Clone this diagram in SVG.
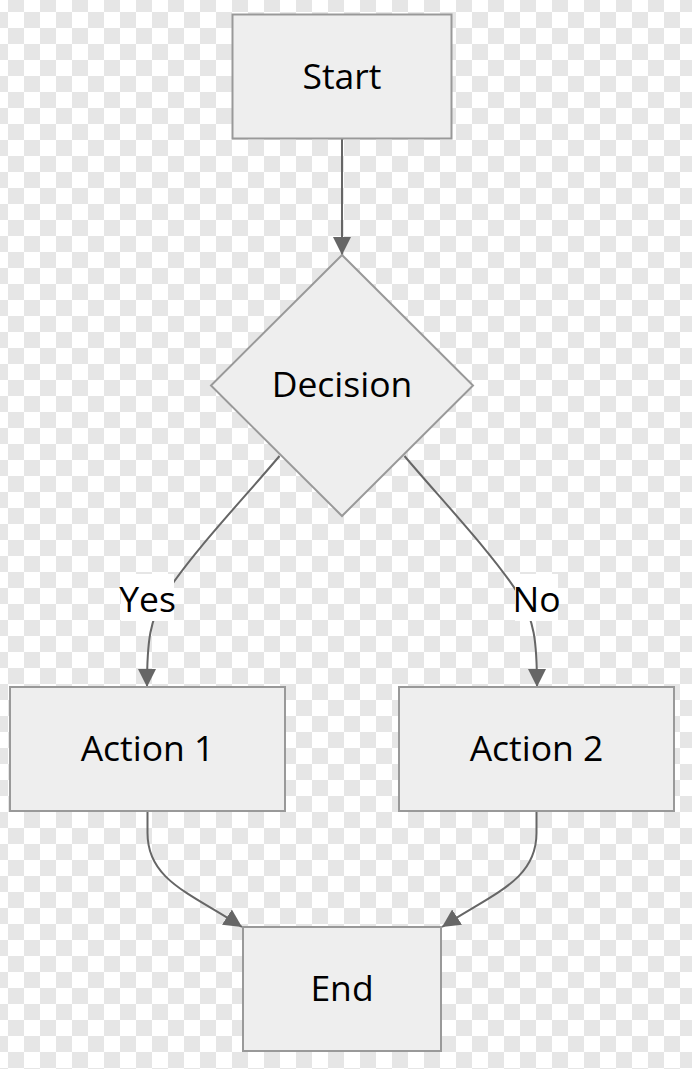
<svg xmlns="http://www.w3.org/2000/svg" width="696" height="1082" viewBox="0 0 696 1082">
  <defs>
    <pattern id="checker" patternUnits="userSpaceOnUse" x="8" y="-4" width="32" height="32">
      <rect x="0" y="0" width="32" height="32" fill="#ffffff"/>
      <rect x="0" y="0" width="16" height="16" fill="#e6e6e6"/>
      <rect x="16" y="16" width="16" height="16" fill="#e6e6e6"/>
    </pattern>
    <marker id="arrow" viewBox="0 0 10 10" refX="10" refY="5" markerUnits="userSpaceOnUse" markerWidth="18" markerHeight="19" orient="auto">
      <path d="M0,0 L10,5 L0,10 z" fill="#666666"/>
    </marker>
    <style>
      .node rect, .node polygon { fill: #eeeeee; stroke: #999999; stroke-width: 2; }
      .node text { font-family: "Open Sans", "Noto Sans", "DejaVu Sans", sans-serif; font-size: 35.5px; fill: #000000; text-anchor: middle; }
      .edge { fill: none; stroke: #666666; stroke-width: 2; marker-end: url(#arrow); }
      .elabel rect { fill: #ffffff; }
      .elabel text { font-family: "Open Sans", "Noto Sans", "DejaVu Sans", sans-serif; font-size: 35.5px; fill: #000000; text-anchor: middle; }
    </style>
  </defs>
  <rect x="0" y="0" width="696" height="1082" fill="#ffffff"/>
  <rect x="0" y="0" width="692" height="1069" fill="url(#checker)"/>

  <g id="connectors">
    <path class="edge" d="M342,139 L342,255"/>
    <path class="edge" d="M279.5,456 C245,497 190,555 165,595 C150,620 147,640 147,687"/>
    <path class="edge" d="M404.5,456 C439,497 494,555 519,595 C534,620 537,640 537,687"/>
    <path class="edge" d="M147.5,812 L147.5,833 C147.5,880 190,893 242,927"/>
    <path class="edge" d="M536.5,812 L536.5,833 C536.5,880 494,893 442,927"/>
    <g class="elabel" id="label-yes">
      <rect x="121" y="574" width="53" height="47"/>
      <text x="147.5" y="612">Yes</text>
    </g>
    <g class="elabel" id="label-no">
      <rect x="515" y="574" width="43" height="47"/>
      <text x="536.5" y="612">No</text>
    </g>
  </g>

  <g id="node-start" class="node">
    <rect x="232.5" y="14.5" width="219" height="124"/>
    <text x="342" y="88.5">Start</text>
  </g>
  <g id="node-decision" class="node">
    <polygon points="342,255 473,385.5 342,516 211,385.5"/>
    <text x="342" y="397">Decision</text>
  </g>
  <g id="node-action1" class="node">
    <rect x="10" y="687" width="275" height="124"/>
    <text x="147.5" y="761">Action 1</text>
  </g>
  <g id="node-action2" class="node">
    <rect x="399" y="687" width="275" height="124"/>
    <text x="536.5" y="761">Action 2</text>
  </g>
  <g id="node-end" class="node">
    <rect x="243" y="927" width="198" height="124"/>
    <text x="342" y="1001">End</text>
  </g>
</svg>
